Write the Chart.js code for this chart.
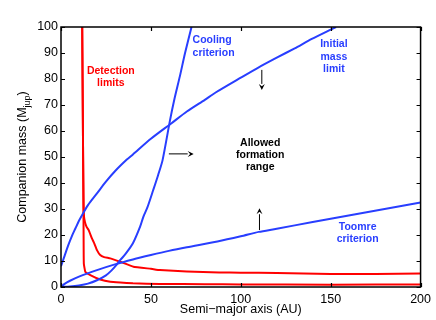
<!DOCTYPE html>
<html><head><meta charset="utf-8">
<script src="https://cdn.jsdelivr.net/npm/chart.js@4.4.1/dist/chart.umd.min.js"></script>
<style>html,body{margin:0;padding:0;background:#fff}#wrap{width:436px;height:320px}</style>
</head><body><div id="wrap"><canvas id="c" width="436" height="320"></canvas></div>
<script>
// ---- data ----
const xTicks = [0, 50, 100, 150, 200];
const yTicks = [0, 10, 20, 30, 40, 50, 60, 70, 80, 90, 100];

const initialA = [0, 1, 2, 4, 6, 8, 10, 12.4, 15, 20, 25, 30, 36.6, 40, 50, 61.5, 70, 80, 86, 100, 110, 120, 130, 139.5, 150, 153];
const initialM = [8, 10, 12, 16, 19.5, 22.5, 25.5, 28.5, 31.5, 36, 40.5, 44.5, 49, 51, 57, 63, 67.5, 72, 74.8, 80.5, 84.5, 88.2, 91.8, 95.4, 99, 100];

const coolingA = [0, 5, 10, 15, 20, 25, 28, 31, 33, 36, 40, 44, 45.8, 48, 51.3, 54, 56.5, 60.6, 63, 66.1, 69, 72.6];
const coolingM = [0, 0.2, 0.6, 1.3, 2.6, 4.5, 6.3, 8.6, 10.4, 12.8, 16.8, 23.2, 27, 30.5, 37.3, 43, 48.8, 64, 72, 81, 90, 100];

const toomreA = [0, 2, 5, 10, 20, 30, 40, 50, 60, 70, 87, 100, 110, 120, 140, 160, 180, 200];
const toomreM = [0, 1.2, 2.4, 4.0, 6.5, 8.7, 10.6, 12.3, 13.9, 15.3, 17.5, 19.5, 21.2, 22.4, 25.0, 27.5, 30.0, 32.5];

const detUpperA = [11.8, 12.0, 12.3, 12.5, 12.7, 13.3, 14.3, 15.4, 17.2, 18.5, 20.0, 21.8, 24, 27.4, 32.9, 40.3, 50, 55, 70, 88, 100, 120, 150, 175, 200];
const detUpperM = [100, 80, 50, 35, 28, 25, 23, 21.9, 18.7, 16.8, 14.2, 12.3, 11.5, 11.0, 9.7, 7.8, 7.0, 6.5, 6.0, 5.6, 5.5, 5.4, 5.0, 5.0, 5.2];

const detLowerA = [11.8, 12.0, 12.3, 12.5, 12.6, 12.7, 13.5, 16.3, 21.8, 27.4, 33, 40, 55, 80, 100, 150, 200];
const detLowerM = [100, 80, 50, 30, 15, 9.0, 5.9, 4.6, 2.9, 2.0, 1.7, 1.4, 1.2, 1.1, 1.0, 0.9, 1.0];

const BLUE = 'rgb(40,62,255)';
const RED = 'rgb(255,0,0)';

function pts(a, m) { return a.map((v, i) => ({ x: v, y: m[i] })); }

// annotation texts (data-space anchors)
const notes = [
  { lines: ['Detection', 'limits'], a: 27.7, m: [83.2, 78.6], color: RED, align: 'center' },
  { lines: ['Cooling', 'criterion'], a: 73.2, m: [95, 90.1], color: BLUE, align: 'left' },
  { lines: ['Initial', 'mass', 'limit'], a: 151.8, m: [93.3, 88.6, 83.8], color: BLUE, align: 'center' },
  { lines: ['Allowed', 'formation', 'range'], a: 110.8, m: [55.5, 50.8, 46.0], color: '#000', align: 'center' },
  { lines: ['Toomre', 'criterion'], a: 165, m: [23.2, 18.5], color: BLUE, align: 'center' }
];
const arrows = [
  { from: [111.7, 83.5], to: [111.7, 75.8] },
  { from: [60.0, 51.2], to: [73.8, 51.2] },
  { from: [110.4, 21.9], to: [110.4, 30.3] }
];

const FONT = '"Liberation Sans", Arial, Helvetica, sans-serif';

const decor = {
  id: 'decor',
  afterDraw(chart) {
    const ctx = chart.ctx, xs = chart.scales.x, ys = chart.scales.y, ca = chart.chartArea;
    ctx.save();
    ctx.strokeStyle = '#000'; ctx.lineWidth = 1.5;
    ctx.strokeRect(ca.left, ca.top, ca.right - ca.left, ca.bottom - ca.top);
    ctx.lineWidth = 1.2;
    ctx.beginPath();
    xTicks.forEach(v => {
      const px = Math.round(xs.getPixelForValue(v)) + 0.5;
      ctx.moveTo(px, ca.bottom); ctx.lineTo(px, ca.bottom - 4);
      ctx.moveTo(px, ca.top); ctx.lineTo(px, ca.top + 4);
    });
    yTicks.forEach(v => {
      const py = Math.round(ys.getPixelForValue(v)) + 0.5;
      ctx.moveTo(ca.left, py); ctx.lineTo(ca.left + 4, py);
      ctx.moveTo(ca.right, py); ctx.lineTo(ca.right - 4, py);
    });
    ctx.stroke();
    ctx.font = 'bold 10.5px ' + FONT;
    ctx.textBaseline = 'middle';
    notes.forEach(n => {
      ctx.fillStyle = n.color; ctx.textAlign = n.align;
      n.lines.forEach((t, i) => ctx.fillText(t, xs.getPixelForValue(n.a), ys.getPixelForValue(n.m[i])));
    });
    ctx.strokeStyle = '#000'; ctx.fillStyle = '#000'; ctx.lineWidth = 1;
    arrows.forEach(ar => {
      const x1 = xs.getPixelForValue(ar.from[0]), y1 = ys.getPixelForValue(ar.from[1]);
      const x2 = xs.getPixelForValue(ar.to[0]), y2 = ys.getPixelForValue(ar.to[1]);
      const ang = Math.atan2(y2 - y1, x2 - x1), L = 6, W = 3;
      ctx.beginPath(); ctx.moveTo(x1, y1); ctx.lineTo(x2 - L * Math.cos(ang), y2 - L * Math.sin(ang)); ctx.stroke();
      ctx.beginPath();
      ctx.moveTo(x2, y2);
      ctx.lineTo(x2 - L * Math.cos(ang) + W * Math.sin(ang), y2 - L * Math.sin(ang) - W * Math.cos(ang));
      ctx.lineTo(x2 - L * 0.6 * Math.cos(ang), y2 - L * 0.6 * Math.sin(ang));
      ctx.lineTo(x2 - L * Math.cos(ang) - W * Math.sin(ang), y2 - L * Math.sin(ang) + W * Math.cos(ang));
      ctx.closePath(); ctx.fill();
    });
    ctx.fillStyle = '#000';
    ctx.font = '12.5px ' + FONT;
    ctx.textAlign = 'center'; ctx.textBaseline = 'middle';
    ctx.fillText('Semi\u2212major axis (AU)', (ca.left + ca.right) / 2, 310);
    ctx.translate(26, (ca.top + ca.bottom) / 2);
    ctx.rotate(-Math.PI / 2);
    ctx.textBaseline = 'alphabetic'; ctx.textAlign = 'left';
    const main = 'Companion mass (M', sub = 'jup', end = ')';
    ctx.font = '12.5px ' + FONT;
    const w1 = ctx.measureText(main).width, w3 = ctx.measureText(end).width;
    ctx.font = '9px ' + FONT;
    const w2 = ctx.measureText(sub).width;
    let x0 = -(w1 + w2 + w3) / 2;
    ctx.font = '12.5px ' + FONT; ctx.fillText(main, x0, 0);
    ctx.font = '9px ' + FONT; ctx.fillText(sub, x0 + w1, 3.5);
    ctx.font = '12.5px ' + FONT; ctx.fillText(end, x0 + w1 + w2, 0);
    ctx.restore();
  }
};

const line = (a, m, c) => ({
  data: pts(a, m), showLine: true, borderColor: c, borderWidth: 2, pointRadius: 0,
  fill: false, tension: 0.25, cubicInterpolationMode: 'default'
});

new Chart(document.getElementById('c'), {
  type: 'scatter',
  data: {
    datasets: [
      line(toomreA, toomreM, BLUE),
      line(initialA, initialM, BLUE),
      line(coolingA, coolingM, BLUE),
      Object.assign(line(detUpperA, detUpperM, RED), { tension: 0.1 }),
      Object.assign(line(detLowerA, detLowerM, RED), { tension: 0.1 })
    ]
  },
  options: {
    responsive: false, animation: false, devicePixelRatio: 1,
    layout: { padding: { top: 27, right: 13, left: 1, bottom: 0 } },
    plugins: { legend: { display: false }, tooltip: { enabled: false } },
    scales: {
      x: {
        type: 'linear', min: 0, max: 200,
        afterBuildTicks: s => { s.ticks = xTicks.map(v => ({ value: v })); },
        afterFit: s => { s.height = 33; },
        grid: { display: false, drawTicks: false, tickLength: 0 }, border: { display: false },
        ticks: { color: '#000', padding: 5, font: { family: FONT, size: 12.5 }, maxRotation: 0 }
      },
      y: {
        type: 'linear', min: 0, max: 100,
        afterBuildTicks: s => { s.ticks = yTicks.map(v => ({ value: v })); },
        afterFit: s => { s.width = 60; },
        grid: { display: false, drawTicks: false, tickLength: 0 }, border: { display: false },
        ticks: { color: '#000', padding: 3, font: { family: FONT, size: 12.5 } }
      }
    }
  },
  plugins: [decor]
});
</script></body></html>
